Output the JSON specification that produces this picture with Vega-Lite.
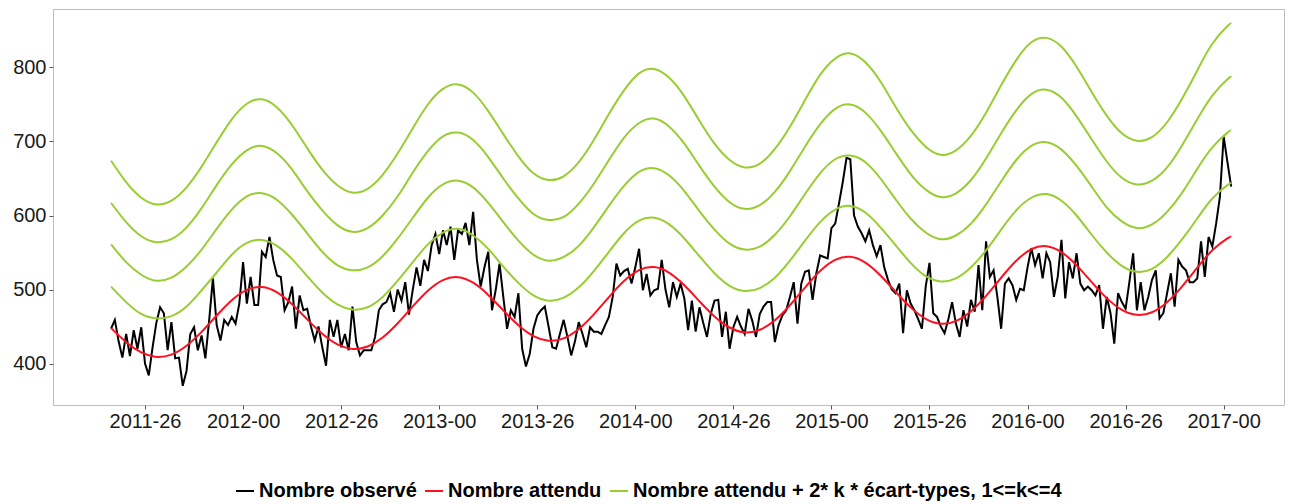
{
"$schema": "https://vega.github.io/schema/vega-lite/v6.json",
"width": 1231, "height": 396,
"autosize": {"type": "none"},
"padding": {"left": 53, "top": 9, "right": 5, "bottom": 99},
"config": {
 "font": "Liberation Sans",
 "view": {"stroke": "#BDBDBD", "strokeWidth": 1},
 "axis": {"grid": false, "domain": false, "tickColor": "#555555", "tickSize": 4, "labelColor": "#1A1A1A", "labelFontSize": 20, "title": null, "labelPadding": 2}
},
"datasets": {
"obs": [
{"t":17,"v":447},{"t":18,"v":459},{"t":19,"v":430},{"t":20,"v":408},{"t":21,"v":440},{"t":22,"v":410},{"t":23,"v":445},{"t":24,"v":420},{"t":25,"v":449},{"t":26,"v":400},
{"t":27,"v":384},{"t":28,"v":422},{"t":29,"v":455},{"t":30,"v":476},{"t":31,"v":468},{"t":32,"v":418},{"t":33,"v":456},{"t":34,"v":407},{"t":35,"v":408},{"t":36,"v":370},
{"t":37,"v":390},{"t":38,"v":440},{"t":39,"v":449},{"t":40,"v":418},{"t":41,"v":438},{"t":42,"v":407},{"t":43,"v":458},{"t":44,"v":515},{"t":45,"v":452},{"t":46,"v":431},
{"t":47,"v":459},{"t":48,"v":452},{"t":49,"v":463},{"t":50,"v":454},{"t":51,"v":481},{"t":52,"v":537},{"t":53,"v":481},{"t":54,"v":517},{"t":55,"v":479},{"t":56,"v":479},
{"t":57,"v":551},{"t":58,"v":544},{"t":59,"v":571},{"t":60,"v":540},{"t":61,"v":519},{"t":62,"v":517},{"t":63,"v":472},{"t":64,"v":483},{"t":65,"v":504},{"t":66,"v":447},
{"t":67,"v":492},{"t":68,"v":472},{"t":69,"v":474},{"t":70,"v":450},{"t":71,"v":431},{"t":72,"v":450},{"t":73,"v":422},{"t":74,"v":397},{"t":75,"v":459},{"t":76,"v":436},
{"t":77,"v":459},{"t":78,"v":422},{"t":79,"v":440},{"t":80,"v":418},{"t":81,"v":477},{"t":82,"v":429},{"t":83,"v":411},{"t":84,"v":418},{"t":85,"v":418},{"t":86,"v":418},
{"t":87,"v":436},{"t":88,"v":472},{"t":89,"v":480},{"t":90,"v":483},{"t":91,"v":495},{"t":92,"v":470},{"t":93,"v":500},{"t":94,"v":485},{"t":95,"v":510},{"t":96,"v":466},
{"t":97,"v":500},{"t":98,"v":530},{"t":99,"v":505},{"t":100,"v":540},{"t":101,"v":525},{"t":102,"v":560},{"t":103,"v":575},{"t":104,"v":548},{"t":105,"v":580},{"t":106,"v":560},
{"t":107,"v":585},{"t":108,"v":540},{"t":109,"v":580},{"t":110,"v":575},{"t":111,"v":590},{"t":112,"v":560},{"t":113,"v":605},{"t":114,"v":540},{"t":115,"v":504},{"t":116,"v":530},
{"t":117,"v":551},{"t":118,"v":472},{"t":119,"v":500},{"t":120,"v":535},{"t":121,"v":490},{"t":122,"v":447},{"t":123,"v":472},{"t":124,"v":463},{"t":125,"v":495},{"t":126,"v":420},
{"t":127,"v":396},{"t":128,"v":413},{"t":129,"v":447},{"t":130,"v":465},{"t":131,"v":472},{"t":132,"v":477},{"t":133,"v":450},{"t":134,"v":422},{"t":135,"v":420},{"t":136,"v":440},
{"t":137,"v":459},{"t":138,"v":436},{"t":139,"v":411},{"t":140,"v":430},{"t":141,"v":456},{"t":142,"v":440},{"t":143,"v":422},{"t":144,"v":449},{"t":145,"v":443},{"t":146,"v":443},
{"t":147,"v":440},{"t":148,"v":452},{"t":149,"v":463},{"t":150,"v":490},{"t":151,"v":535},{"t":152,"v":519},{"t":153,"v":525},{"t":154,"v":528},{"t":155,"v":508},{"t":156,"v":530},
{"t":157,"v":555},{"t":158,"v":499},{"t":159,"v":521},{"t":160,"v":492},{"t":161,"v":499},{"t":162,"v":501},{"t":163,"v":540},{"t":164,"v":500},{"t":165,"v":476},{"t":166,"v":510},
{"t":167,"v":490},{"t":168,"v":508},{"t":169,"v":488},{"t":170,"v":445},{"t":171,"v":485},{"t":172,"v":443},{"t":173,"v":476},{"t":174,"v":455},{"t":175,"v":436},{"t":176,"v":467},
{"t":177,"v":485},{"t":178,"v":486},{"t":179,"v":436},{"t":180,"v":470},{"t":181,"v":420},{"t":182,"v":449},{"t":183,"v":463},{"t":184,"v":450},{"t":185,"v":440},{"t":186,"v":474},
{"t":187,"v":458},{"t":188,"v":436},{"t":189,"v":467},{"t":190,"v":477},{"t":191,"v":483},{"t":192,"v":483},{"t":193,"v":429},{"t":194,"v":452},{"t":195,"v":465},{"t":196,"v":472},
{"t":197,"v":490},{"t":198,"v":510},{"t":199,"v":454},{"t":200,"v":508},{"t":201,"v":524},{"t":202,"v":526},{"t":203,"v":486},{"t":204,"v":522},{"t":205,"v":546},{"t":206,"v":544},
{"t":207,"v":542},{"t":208,"v":583},{"t":209,"v":589},{"t":210,"v":616},{"t":211,"v":645},{"t":212,"v":678},{"t":213,"v":676},{"t":214,"v":600},{"t":215,"v":585},{"t":216,"v":576},
{"t":217,"v":565},{"t":218,"v":580},{"t":219,"v":560},{"t":220,"v":545},{"t":221,"v":560},{"t":222,"v":530},{"t":223,"v":513},{"t":224,"v":500},{"t":225,"v":495},{"t":226,"v":508},
{"t":227,"v":441},{"t":228,"v":499},{"t":229,"v":481},{"t":230,"v":472},{"t":231,"v":460},{"t":232,"v":447},{"t":233,"v":504},{"t":234,"v":536},{"t":235,"v":468},{"t":236,"v":463},
{"t":237,"v":450},{"t":238,"v":441},{"t":239,"v":460},{"t":240,"v":483},{"t":241,"v":454},{"t":242,"v":436},{"t":243,"v":472},{"t":244,"v":450},{"t":245,"v":486},{"t":246,"v":470},
{"t":247,"v":533},{"t":248,"v":472},{"t":249,"v":565},{"t":250,"v":517},{"t":251,"v":526},{"t":252,"v":490},{"t":253,"v":447},{"t":254,"v":508},{"t":255,"v":515},{"t":256,"v":506},
{"t":257,"v":486},{"t":258,"v":501},{"t":259,"v":499},{"t":260,"v":530},{"t":261,"v":556},{"t":262,"v":533},{"t":263,"v":549},{"t":264,"v":515},{"t":265,"v":549},{"t":266,"v":537},
{"t":267,"v":490},{"t":268,"v":517},{"t":269,"v":567},{"t":270,"v":488},{"t":271,"v":537},{"t":272,"v":515},{"t":273,"v":549},{"t":274,"v":508},{"t":275,"v":499},{"t":276,"v":504},
{"t":277,"v":499},{"t":278,"v":492},{"t":279,"v":506},{"t":280,"v":447},{"t":281,"v":490},{"t":282,"v":468},{"t":283,"v":427},{"t":284,"v":495},{"t":285,"v":483},{"t":286,"v":474},
{"t":287,"v":510},{"t":288,"v":549},{"t":289,"v":472},{"t":290,"v":510},{"t":291,"v":472},{"t":292,"v":490},{"t":293,"v":513},{"t":294,"v":526},{"t":295,"v":461},{"t":296,"v":468},
{"t":297,"v":495},{"t":298,"v":522},{"t":299,"v":477},{"t":300,"v":540},{"t":301,"v":531},{"t":302,"v":526},{"t":303,"v":510},{"t":304,"v":510},{"t":305,"v":515},{"t":306,"v":565},
{"t":307,"v":517},{"t":308,"v":571},{"t":309,"v":558},{"t":310,"v":589},{"t":311,"v":625},{"t":312,"v":707},{"t":313,"v":672},{"t":314,"v":639}
],
"curves": [
{"t":17,"e":447.9,"g1":504,"g2":561,"g3":617,"g4":674},
{"t":21,"e":428.9,"g1":483,"g2":537,"g3":591,"g4":645},
{"t":25,"e":415.0,"g1":467,"g2":520,"g3":572,"g4":624},
{"t":29,"e":409.0,"g1":461,"g2":512,"g3":564,"g4":615},
{"t":33,"e":412.1,"g1":464,"g2":516,"g3":568,"g4":620},
{"t":37,"e":424.1,"g1":477,"g2":531,"g3":584,"g4":638},
{"t":41,"e":442.8,"g1":499,"g2":554,"g3":610,"g4":666},
{"t":45,"e":464.9,"g1":523,"g2":582,"g3":641,"g4":699},
{"t":49,"e":485.6,"g1":547,"g2":608,"g3":669,"g4":730},
{"t":53,"e":499.6,"g1":563,"g2":626,"g3":688,"g4":751},
{"t":57,"e":503.4,"g1":567,"g2":630,"g3":694,"g4":757},
{"t":61,"e":496.2,"g1":559,"g2":621,"g3":684,"g4":746},
{"t":65,"e":480.1,"g1":541,"g2":601,"g3":662,"g4":722},
{"t":69,"e":459.7,"g1":518,"g2":576,"g3":633,"g4":691},
{"t":73,"e":440.2,"g1":496,"g2":551,"g3":607,"g4":662},
{"t":77,"e":425.9,"g1":480,"g2":533,"g3":587,"g4":641},
{"t":81,"e":419.8,"g1":473,"g2":526,"g3":578,"g4":631},
{"t":85,"e":423.0,"g1":476,"g2":530,"g3":583,"g4":636},
{"t":89,"e":435.2,"g1":490,"g2":545,"g3":600,"g4":655},
{"t":93,"e":454.5,"g1":512,"g2":569,"g3":626,"g4":684},
{"t":97,"e":477.2,"g1":537,"g2":597,"g3":658,"g4":718},
{"t":101,"e":498.4,"g1":561,"g2":624,"g3":687,"g4":750},
{"t":105,"e":512.8,"g1":577,"g2":642,"g3":707,"g4":771},
{"t":109,"e":516.7,"g1":582,"g2":647,"g3":712,"g4":777},
{"t":113,"e":509.2,"g1":573,"g2":638,"g3":702,"g4":766},
{"t":117,"e":492.7,"g1":555,"g2":617,"g3":679,"g4":741},
{"t":121,"e":471.8,"g1":531,"g2":591,"g3":650,"g4":710},
{"t":125,"e":451.8,"g1":509,"g2":566,"g3":623,"g4":680},
{"t":129,"e":437.1,"g1":492,"g2":547,"g3":602,"g4":657},
{"t":133,"e":430.8,"g1":485,"g2":539,"g3":594,"g4":648},
{"t":137,"e":434.1,"g1":489,"g2":544,"g3":598,"g4":653},
{"t":141,"e":446.7,"g1":503,"g2":559,"g3":616,"g4":672},
{"t":145,"e":466.5,"g1":525,"g2":584,"g3":643,"g4":702},
{"t":149,"e":489.8,"g1":551,"g2":613,"g3":675,"g4":737},
{"t":153,"e":511.5,"g1":576,"g2":640,"g3":705,"g4":769},
{"t":157,"e":526.3,"g1":593,"g2":659,"g3":725,"g4":792},
{"t":161,"e":530.3,"g1":597,"g2":664,"g3":731,"g4":798},
{"t":165,"e":522.6,"g1":588,"g2":654,"g3":720,"g4":786},
{"t":169,"e":505.7,"g1":569,"g2":633,"g3":697,"g4":761},
{"t":173,"e":484.2,"g1":545,"g2":606,"g3":667,"g4":728},
{"t":177,"e":463.7,"g1":522,"g2":581,"g3":639,"g4":697},
{"t":181,"e":448.7,"g1":505,"g2":562,"g3":618,"g4":675},
{"t":185,"e":442.2,"g1":498,"g2":554,"g3":609,"g4":665},
{"t":189,"e":445.6,"g1":502,"g2":558,"g3":614,"g4":670},
{"t":193,"e":458.5,"g1":516,"g2":574,"g3":632,"g4":690},
{"t":197,"e":478.8,"g1":539,"g2":599,"g3":660,"g4":720},
{"t":201,"e":502.7,"g1":566,"g2":629,"g3":693,"g4":756},
{"t":205,"e":525.0,"g1":591,"g2":657,"g3":723,"g4":790},
{"t":209,"e":540.1,"g1":608,"g2":676,"g3":744,"g4":812},
{"t":213,"e":544.3,"g1":613,"g2":681,"g3":750,"g4":819},
{"t":217,"e":536.4,"g1":604,"g2":672,"g3":739,"g4":807},
{"t":221,"e":519.0,"g1":584,"g2":650,"g3":715,"g4":781},
{"t":225,"e":497.0,"g1":560,"g2":622,"g3":685,"g4":747},
{"t":229,"e":475.9,"g1":536,"g2":596,"g3":656,"g4":716},
{"t":233,"e":460.5,"g1":518,"g2":577,"g3":635,"g4":693},
{"t":237,"e":453.8,"g1":511,"g2":568,"g3":625,"g4":682},
{"t":241,"e":457.3,"g1":515,"g2":573,"g3":630,"g4":688},
{"t":245,"e":470.5,"g1":530,"g2":589,"g3":648,"g4":708},
{"t":249,"e":491.4,"g1":553,"g2":615,"g3":677,"g4":739},
{"t":253,"e":515.9,"g1":581,"g2":646,"g3":711,"g4":776},
{"t":257,"e":538.8,"g1":607,"g2":675,"g3":742,"g4":810},
{"t":261,"e":554.4,"g1":624,"g2":694,"g3":764,"g4":834},
{"t":265,"e":558.6,"g1":629,"g2":699,"g3":770,"g4":840},
{"t":269,"e":550.5,"g1":620,"g2":689,"g3":759,"g4":828},
{"t":273,"e":532.7,"g1":600,"g2":667,"g3":734,"g4":801},
{"t":277,"e":510.1,"g1":574,"g2":639,"g3":703,"g4":767},
{"t":281,"e":488.4,"g1":550,"g2":611,"g3":673,"g4":735},
{"t":285,"e":472.6,"g1":532,"g2":592,"g3":651,"g4":711},
{"t":289,"e":465.8,"g1":524,"g2":583,"g3":642,"g4":701},
{"t":293,"e":469.3,"g1":528,"g2":588,"g3":647,"g4":706},
{"t":297,"e":482.9,"g1":544,"g2":605,"g3":665,"g4":726},
{"t":301,"e":504.3,"g1":568,"g2":631,"g3":695,"g4":758},
{"t":305,"e":529.5,"g1":596,"g2":663,"g3":730,"g4":796},
{"t":309,"e":553.0,"g1":623,"g2":692,"g3":762,"g4":832},
{"t":313,"e":569.0,"g1":641,"g2":712,"g3":784,"g4":856},
{"t":314,"e":571.3,"g1":643,"g2":715,"g3":787,"g4":859}
]
},
"encoding": {
 "x": {"field": "t", "type": "quantitative",
  "scale": {"domain": [1.6, 328], "nice": false, "zero": false},
  "axis": {"values": [26,52,78,104,130,156,182,208,234,260,286,312],
   "labelExpr": "(floor(datum.value/52)+2011) + '-' + (datum.value % 52 == 0 ? '00' : '26')"}}
},
"layer": [
 {"data": {"name": "obs"},
  "mark": {"type": "line", "strokeWidth": 2, "strokeJoin": "miter"},
  "encoding": {
   "y": {"field": "v", "type": "quantitative", "scale": {"domain": [344, 879], "nice": false, "zero": false},
    "axis": {"values": [400,500,600,700,800], "labelPadding": 3}},
   "color": {"datum": "Nombre observé", "type": "nominal",
    "scale": {"domain": ["Nombre observé", "Nombre attendu", "Nombre attendu + 2* k * écart-types, 1<=k<=4"], "range": ["#000000", "#FF1020", "#9ACD32"]},
    "legend": {"title": null, "orient": "none", "legendX": 182, "legendY": 472, "direction": "horizontal",
     "symbolType": "stroke", "symbolStrokeWidth": 2, "symbolSize": 324, "labelFontSize": 20, "labelFontWeight": "bold", "labelColor": "#000000", "labelOffset": 4, "columnPadding": 4, "labelLimit": 700}}
  }},
 {"data": {"name": "curves"},
  "mark": {"type": "line", "strokeWidth": 2, "interpolate": "natural"},
  "encoding": {
   "y": {"field": "e", "type": "quantitative"},
   "color": {"datum": "Nombre attendu", "type": "nominal"}
  }},
 {"data": {"name": "curves"},
  "transform": [{"fold": ["g1", "g2", "g3", "g4"], "as": ["k", "g"]}],
  "mark": {"type": "line", "strokeWidth": 2, "interpolate": "natural"},
  "encoding": {
   "y": {"field": "g", "type": "quantitative"},
   "color": {"datum": "Nombre attendu + 2* k * écart-types, 1<=k<=4", "type": "nominal"},
   "detail": {"field": "k", "type": "nominal"}
  }}
]
}
